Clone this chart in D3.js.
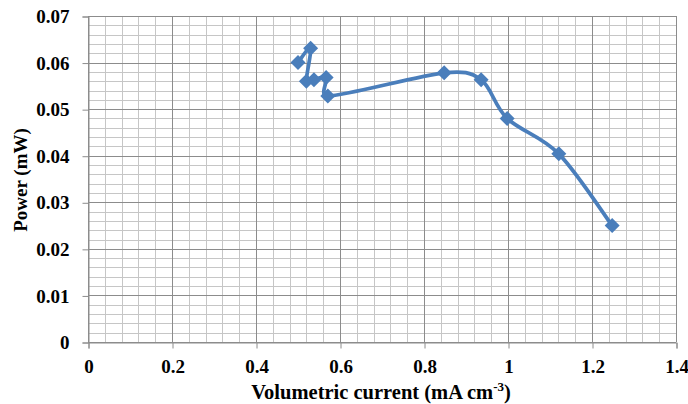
<!DOCTYPE html>
<html><head><meta charset="utf-8">
<script src="https://cdn.jsdelivr.net/npm/d3@7/dist/d3.min.js"></script>
<style>body{margin:0;background:#fff}svg{display:block}</style>
</head><body><svg id="c" width="688" height="404"></svg>
<script>
const currentX = [0.50, 0.53, 0.52, 0.538, 0.567, 0.571, 0.848, 0.936, 0.998, 1.121, 1.248];
const powerY   = [0.0600, 0.0631, 0.0560, 0.0563, 0.0568, 0.0528, 0.0578, 0.0563, 0.0480, 0.0404, 0.0250];
const xTicks = [0, 0.2, 0.4, 0.6, 0.8, 1, 1.2, 1.4];
const yTicks = [0, 0.01, 0.02, 0.03, 0.04, 0.05, 0.06, 0.07];
const xTitle = "Volumetric current (mA cm";
const yTitle = "Power (mW)";

// Excel-like smoothed line: Bezier with Catmull-Rom tangents (1/6), clamped
function ExcelSmooth(context) { this._context = context; }
ExcelSmooth.prototype = {
  areaStart() {}, areaEnd() {},
  lineStart() { this._p = []; },
  point(x, y) { this._p.push([+x, +y]); },
  lineEnd() {
    const p = this._p, c = this._context, n = p.length;
    if (!n) return;
    c.moveTo(p[0][0], p[0][1]);
    const clamp = (v, max) => { const l = Math.hypot(v[0], v[1]); return l > max && l > 0 ? [v[0] * max / l, v[1] * max / l] : v; };
    for (let i = 0; i < n - 1; i++) {
      const a = p[i], b = p[i + 1], pr = p[i - 1] || a, nx = p[i + 2] || b;
      const seg = Math.hypot(b[0] - a[0], b[1] - a[1]);
      const t1 = clamp([(b[0] - pr[0]) / 6, (b[1] - pr[1]) / 6], seg * 0.5);
      const t2 = clamp([(nx[0] - a[0]) / 6, (nx[1] - a[1]) / 6], seg * 0.5);
      c.bezierCurveTo(a[0] + t1[0], a[1] + t1[1], b[0] - t2[0], b[1] - t2[1], b[0], b[1]);
    }
  }
};
const curveExcel = ctx => new ExcelSmooth(ctx);

const svg = d3.select("#c");
const L = 88, R = 676, T = 16, B = 342;
const x = d3.scaleLinear().domain([0, 1.4]).range([L, R]);
const y = d3.scaleLinear().domain([0, 0.07]).range([B, T]);
const FONT = "Liberation Serif";

const xMinor = d3.range(0, 1.4001, 0.04);
const yMinor = d3.range(0, 0.07001, 0.002);
const g = svg.append("g");
g.selectAll(".vm").data(xMinor).join("line")
  .attr("x1", d => Math.round(x(d)) + 0.5).attr("x2", d => Math.round(x(d)) + 0.5)
  .attr("y1", T).attr("y2", B).attr("stroke", "#c6c6c6").attr("stroke-width", 1);
g.selectAll(".hm").data(yMinor).join("line")
  .attr("y1", d => Math.round(y(d)) + 0.5).attr("y2", d => Math.round(y(d)) + 0.5)
  .attr("x1", L).attr("x2", R).attr("stroke", "#c6c6c6").attr("stroke-width", 1);
g.selectAll(".vM").data(xTicks).join("line")
  .attr("x1", d => Math.round(x(d)) + 0.5).attr("x2", d => Math.round(x(d)) + 0.5)
  .attr("y1", T).attr("y2", B).attr("stroke", "#8c8c8c").attr("stroke-width", 1);
g.selectAll(".hM").data(yTicks).join("line")
  .attr("y1", d => Math.round(y(d)) + 0.5).attr("y2", d => Math.round(y(d)) + 0.5)
  .attr("x1", L).attr("x2", R).attr("stroke", "#8c8c8c").attr("stroke-width", 1);

const xa = svg.append("g").attr("transform", `translate(0.5,${B + 0.5})`)
  .call(d3.axisBottom(x).tickValues(xTicks).tickSize(6).tickPadding(11).tickFormat(d => d3.format("")(d)));
const ya = svg.append("g").attr("transform", `translate(${L + 0.5},0.5)`)
  .call(d3.axisLeft(y).tickValues(yTicks).tickSize(6).tickPadding(13).tickFormat(d => d === 0 ? "0" : d3.format(".2f")(d)));
[xa, ya].forEach(a => {
  a.attr("font-family", FONT).attr("font-size", 19).attr("font-weight", "bold");
  a.select(".domain").attr("stroke", "#8c8c8c");
  a.selectAll(".tick line").attr("stroke", "#8c8c8c");
  a.selectAll("text").attr("fill", "#000");
});

const pts = currentX.map((d, i) => [d, powerY[i]]);
svg.append("path").datum(pts)
  .attr("d", d3.line().x(d => x(d[0])).y(d => y(d[1])).curve(curveExcel))
  .attr("fill", "none").attr("stroke", "#4a7ebb").attr("stroke-width", 3.75)
  .attr("stroke-linejoin", "round").attr("stroke-linecap", "round");
svg.selectAll(".pt").data(pts).join("path")
  .attr("transform", d => `translate(${x(d[0])},${y(d[1])})`)
  .attr("d", "M0,-7.5L7.5,0L0,7.5L-7.5,0Z").attr("fill", "#4a7ebb");

const xt = svg.append("text").attr("x", 381).attr("y", 399).attr("text-anchor", "middle")
  .attr("font-family", FONT).attr("font-weight", "bold").attr("font-size", 20.5);
xt.append("tspan").text(xTitle);
xt.append("tspan").text("-3").attr("font-size", 13).attr("dy", -8);
xt.append("tspan").text(")").attr("dy", 8);
svg.append("text").attr("transform", "translate(27,180) rotate(-90)").attr("text-anchor", "middle")
  .attr("font-family", FONT).attr("font-weight", "bold").attr("font-size", 19).text(yTitle);
</script></body></html>
